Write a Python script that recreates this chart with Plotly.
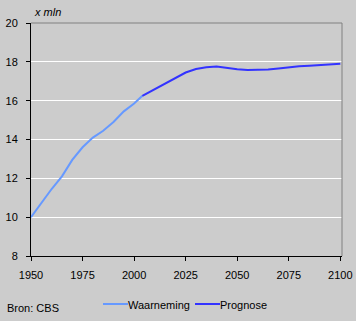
import plotly.graph_objects as go

obs_years = [1950, 1955, 1960, 1965, 1970, 1975, 1980, 1985, 1990, 1995, 2000, 2004]
obs_vals = [10.0, 10.75, 11.45, 12.1, 12.95, 13.6, 14.1, 14.45, 14.9, 15.45, 15.85, 16.25]

prog_years = [2004, 2010, 2015, 2020, 2025, 2030, 2035, 2040, 2045, 2050, 2055, 2060,
              2065, 2070, 2075, 2080, 2085, 2090, 2095, 2100]
prog_vals = [16.25, 16.6, 16.9, 17.2, 17.45, 17.63, 17.72, 17.76, 17.68, 17.62, 17.58, 17.58,
             17.6, 17.66, 17.72, 17.77, 17.8, 17.84, 17.86, 17.9]

x_ticks = [1950, 1975, 2000, 2025, 2050, 2075, 2100]
y_ticks = [8, 10, 12, 14, 16, 18, 20]

series_names = ["Waarneming", "Prognose"]
series_colors = ["#6699FF", "#3333FF"]

FONT = "Liberation Sans, Arial, sans-serif"
W, H = 356, 321
L, R, T, B = 31, 14, 23, 65
pw, ph = W - L - R, H - T - B


def px_x(p):
    return (p - L) / pw


def px_y(p):
    return (H - B - p) / ph


fig = go.Figure()
fig.add_trace(go.Scatter(x=obs_years, y=obs_vals, mode="lines", name=series_names[0],
                         line=dict(color=series_colors[0], width=2), showlegend=False))
fig.add_trace(go.Scatter(x=prog_years, y=prog_vals, mode="lines", name=series_names[1],
                         line=dict(color=series_colors[1], width=2), showlegend=False))

# manual legend (line sample + label)
leg_line_x0 = [103, 195]
leg_y = 304
shapes = [
    dict(type="line", xref="paper", yref="paper", x0=1, x1=1, y0=0, y1=1,
         line=dict(color="#808080", width=1)),
    dict(type="line", xref="paper", yref="paper", x0=0, x1=1, y0=1, y1=1,
         line=dict(color="#808080", width=1)),
]
annotations = [
    dict(text="<i>x mln</i>", xref="paper", yref="paper", x=px_x(32),
         y=px_y(12), xanchor="left", yanchor="middle", showarrow=False,
         font=dict(family=FONT, size=11)),
    dict(text="Bron: CBS", xref="paper", yref="paper", x=px_x(5),
         y=px_y(308), xanchor="left", yanchor="middle", showarrow=False,
         font=dict(family=FONT, size=11)),
]
for name, col, x0 in zip(series_names, series_colors, leg_line_x0):
    shapes.append(dict(type="line", xref="paper", yref="paper",
                       x0=px_x(x0), x1=px_x(x0 + 25), y0=px_y(leg_y), y1=px_y(leg_y),
                       line=dict(color=col, width=2)))
    annotations.append(dict(text=name, xref="paper", yref="paper", x=px_x(x0 + 25),
                            y=px_y(leg_y + 1), xanchor="left", yanchor="middle",
                            showarrow=False, font=dict(family=FONT, size=11),
                            xshift=-2))

fig.update_layout(
    width=W, height=H,
    margin=dict(l=L, r=R, t=T, b=B, pad=0, autoexpand=False),
    paper_bgcolor="#CCCCCC", plot_bgcolor="#CCCCCC",
    font=dict(family=FONT, size=11, color="black"),
    showlegend=False,
    xaxis=dict(range=[1950, 2100.8], tickvals=x_ticks, ticks="outside", ticklen=4,
               tickcolor="black", showline=True, linecolor="black", linewidth=1,
               showgrid=False, zeroline=False, ticklabelstandoff=5,
               tickfont=dict(family=FONT, size=11)),
    yaxis=dict(range=[8, 20], tickvals=y_ticks, ticks="outside", ticklen=4,
               tickcolor="black", showline=True, linecolor="black", linewidth=1,
               showgrid=True, gridcolor="white", gridwidth=1, zeroline=False,
               ticklabelstandoff=6, tickfont=dict(family=FONT, size=11)),
    annotations=annotations,
    shapes=shapes,
)

fig.write_html("out.html")
